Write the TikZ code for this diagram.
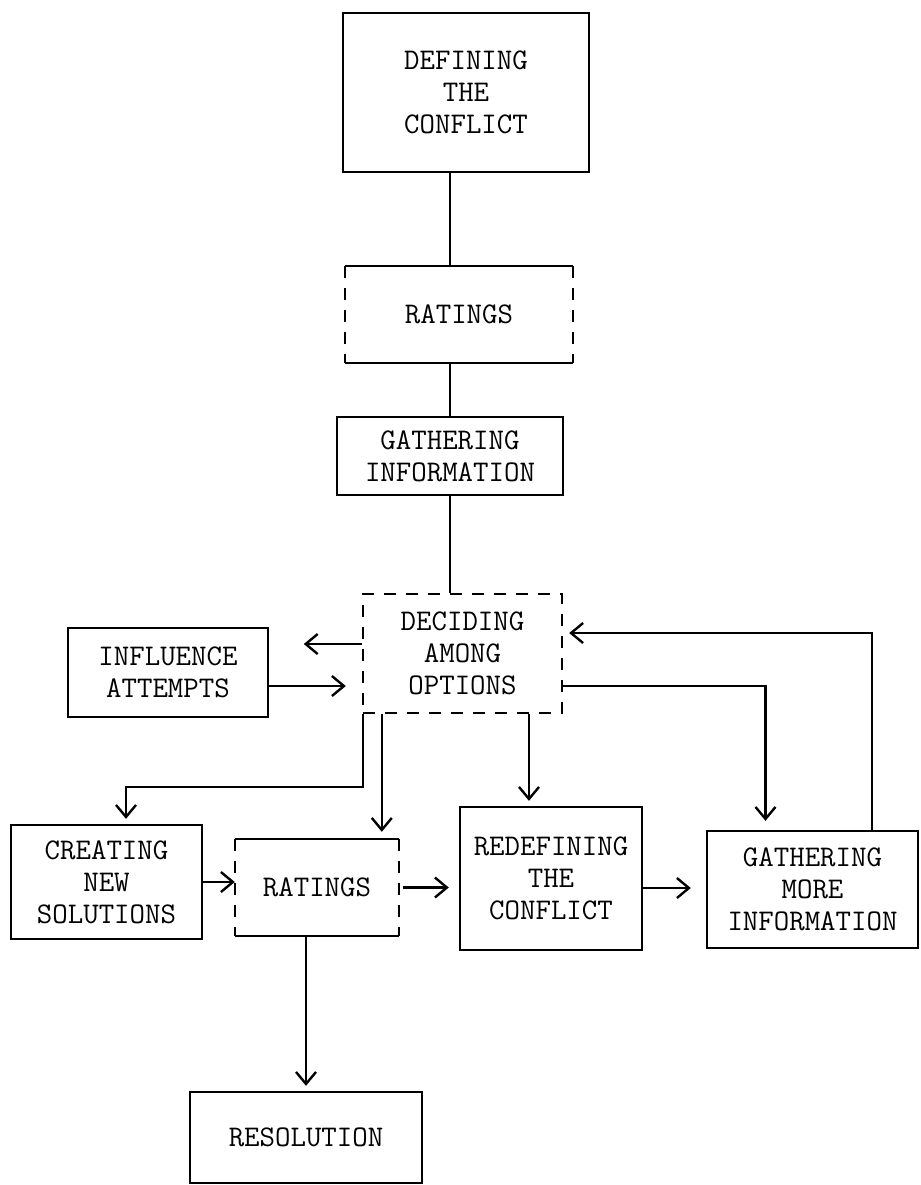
\documentclass[tikz,border=0pt]{standalone}
\usetikzlibrary{arrows.meta,calc}

\tikzset{
  box/.style={draw, line width=1.2pt, align=center, inner sep=2pt,
    font=\ttfamily\fontsize{15}{16}\selectfont},
  broken/.style={dash pattern=on 6pt off 5pt},
  dbox/.style={box, broken},
  rbox/.style={box, draw=none},
  conn/.style={line width=1.2pt},
  arr/.style={conn, -{Straight Barb[length=6pt,width=10pt]}},
}

\begin{document}
\begin{tikzpicture}[x=0.5pt,y=-0.5pt]
	\useasboundingbox (0,0) rectangle (921,1185);

	% boxes
	\node[box, minimum width=123pt, minimum height=79.5pt] (def) at (466,92.5) {DEFINING\\THE\\CONFLICT};
	\node[rbox, minimum width=113pt, minimum height=47.5pt] (rat1) at (459,314.5) {RATINGS};
	\node[box, minimum width=113pt, minimum height=39pt] (gath) at (450,456) {GATHERING\\INFORMATION};
	\node[dbox, minimum width=99.5pt, minimum height=59.5pt] (dec) at (462.5,653.5) {DECIDING\\AMONG\\OPTIONS};
	\node[box, minimum width=100pt, minimum height=44.5pt] (infl) at (168,672.5) {INFLUENCE\\ATTEMPTS};
	\node[box, minimum width=95.5pt, minimum height=57pt] (creat) at (106.5,882) {CREATING\\NEW\\SOLUTIONS};
	\node[rbox, minimum width=81pt, minimum height=47.5pt] (rat2) at (317,887.5) {RATINGS};
	\node[box, minimum width=91pt, minimum height=71.5pt] (redef) at (551,878.5) {REDEFINING\\THE\\CONFLICT};
	\node[box, minimum width=105.5pt, minimum height=58.5pt] (gmore) at (812.5,889.5) {GATHERING\\MORE\\INFORMATION};
	\node[box, minimum width=116pt, minimum height=45.5pt] (resol) at (306,1137.5) {RESOLUTION};

	% ratings boxes: solid top and bottom, broken sides
	\foreach \rb in {rat1,rat2}{
	  \draw[conn] (\rb.north west) -- (\rb.north east);
	  \draw[conn] (\rb.south west) -- (\rb.south east);
	  \draw[conn, broken] (\rb.north west) -- (\rb.south west);
	  \draw[conn, broken] (\rb.north east) -- (\rb.south east);
	}

	% main column
	\draw[conn] (def.south -| gath.north) -- (rat1.north -| gath.north);
	\draw[conn] (rat1.south -| gath.north) -- (gath.north);
	\draw[conn] (gath.south) -- (gath.south |- dec.north);

	% influence
	\coordinate (away) at ($(dec.west)+(-58,-9.5)$);
	\draw[arr] ($(dec.west)+(0,-9.5)$) -- (away);
	\coordinate (push) at ($(infl.east)+(0,13.5)$);
	\draw[arr, shorten >=8pt] (push) -- (push -| dec.west);

	% out of deciding
	\coordinate (split) at ($(dec.south west)+(1,0)$);
	\coordinate (newin) at ($(creat.north)+(19.5,0)$);
	\draw[arr, shorten >=2.5pt] (split) -- ++(0,73) -| (newin);

	\coordinate (rdown) at ($(dec.south west)+(20,0)$);
	\draw[arr, shorten >=3.5pt] (rdown) -- (rdown |- rat2.north);

	\coordinate (redown) at ($(dec.south)+(66.5,0)$);
	\draw[arr, shorten >=2.5pt] (redown) -- (redown |- redef.north);

	\coordinate (mout) at ($(dec.east)+(0,32.5)$);
	\coordinate (morein) at ($(gmore.north)+(-47,0)$);
	\draw[arr, shorten >=4.5pt] (mout) -| (morein);

	% feedback
	\coordinate (back) at ($(gmore.north)+(59.5,0)$);
	\coordinate (backin) at ($(dec.east)+(0,-20.5)$);
	\draw[arr, shorten >=3pt] (back) |- (backin);

	% bottom row
	\draw[arr] (creat.east) -- (creat.east -| rat2.west);
	\draw[arr, shorten <=2pt, shorten >=5pt] (rat2.east) -- (rat2.east -| redef.west);
	\coordinate (rout) at ($(redef.east)+(0,9.5)$);
	\draw[arr, shorten >=7.5pt] (rout) -- (rout -| gmore.west);
	\draw[arr, shorten >=2.5pt] (rat2.south -| resol.north) -- (resol.north);
\end{tikzpicture}
\end{document}
